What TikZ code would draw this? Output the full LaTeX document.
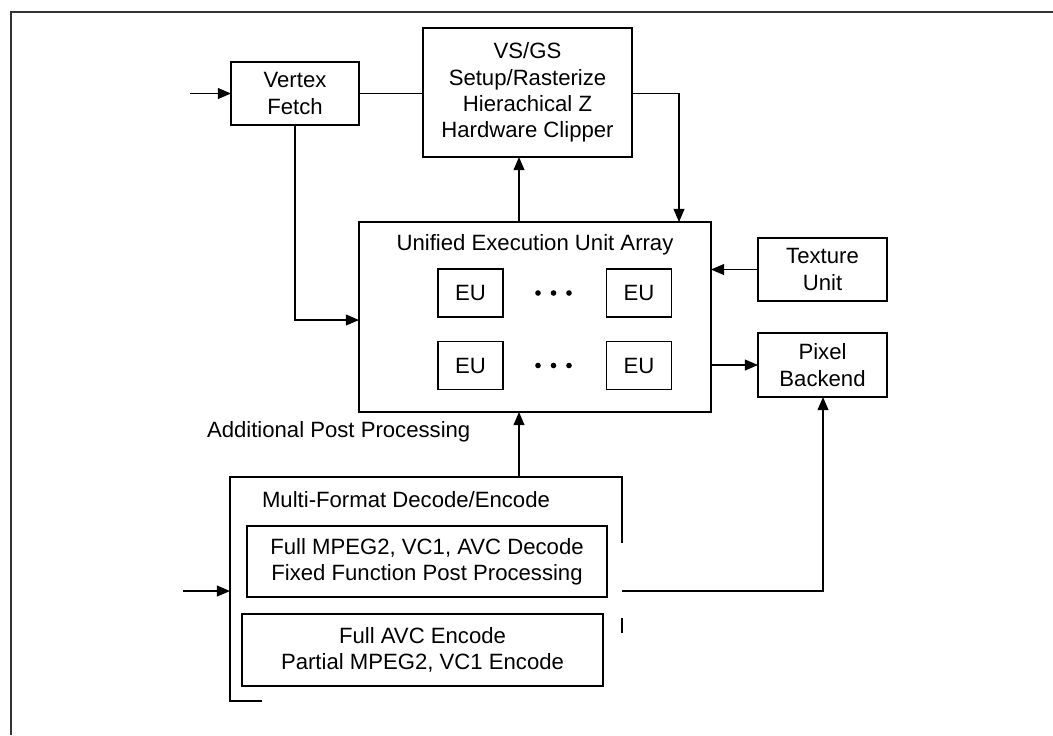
\documentclass[tikz,border=0pt]{standalone}
\usepackage{fontspec}
\setmainfont{Liberation Sans}
\usetikzlibrary{arrows.meta}
\begin{document}
\begin{tikzpicture}[x=0.02cm,y=-0.02cm,
  every node/.style={font=\fontsize{12.6}{15}\selectfont, align=center, inner sep=0pt, outer sep=0pt},
  blk/.style={draw=black, line width=0.8pt},
  ln/.style={line width=0.8pt},
  arr/.style={line width=0.8pt, -{Triangle[length=7.5pt,width=6.2pt]}},
  lbl/.style={}]
\useasboundingbox (0,0) rectangle (1053,735);
% outer frame
\draw[line width=1.3pt, black!80] (11,735) -- (11,12) -- (1053,12);

% blocks
\node[blk, minimum width=2.56cm, minimum height=1.26cm] (VF) at (295,93.5) {Vertex\\Fetch};
\node[blk, minimum width=4.18cm, minimum height=2.58cm] (VS) at (527.5,92.5) {VS/GS\\Setup/Rasterize\\Hierachical Z\\Hardware Clipper};
\node[blk, minimum width=7.04cm, minimum height=3.8cm] (UEA) at (535,317) {};
\node[lbl] (UEAt) at (535,245) {Unified Execution Unit Array};
\node[blk, minimum width=1.3cm, minimum height=0.96cm] (EU1) at (470.5,293) {EU};
\node[blk, minimum width=1.3cm, minimum height=0.96cm] (EU2) at (639,293) {EU};
\node[blk, minimum width=1.3cm, minimum height=0.96cm] (EU3) at (470.5,365.5) {EU};
\node[blk, minimum width=1.3cm, minimum height=0.96cm] (EU4) at (639,365.5) {EU};
\foreach \x in {538,553.5,569} {
  \fill (\x,293) circle (2.8);
  \fill (\x,365.5) circle (2.8);
}
\node[blk, minimum width=2.58cm, minimum height=1.26cm] (TU) at (822.5,269.5) {Texture\\Unit};
\node[blk, minimum width=2.58cm, minimum height=1.28cm] (PB) at (822.5,365) {Pixel\\Backend};
\node[lbl, anchor=west] (APP) at (207,432) {Additional Post Processing};

% multi-format outer bracket-like frame
\draw[ln] (262,701) -- (230,701) -- (230,477) -- (622,477) -- (622,543);
\draw[ln] (622,618) -- (622,633);
\coordinate (MFtop) at (519,477);
\coordinate (MFout) at (622,591);
\coordinate (MFin) at (230,591);
\node[lbl] (MFt) at (406,500) {Multi-Format Decode/Encode};
\node[blk, minimum width=7.2cm, minimum height=1.42cm] (B1) at (427,561.5) {Full MPEG2, VC1, AVC Decode\\Fixed Function Post Processing};
\node[blk, minimum width=7.22cm, minimum height=1.44cm] (B2) at (422.5,650) {Full AVC Encode\\Partial MPEG2, VC1 Encode};

% connectors
\coordinate (inVF) at (190,93.5);
\coordinate (inMF) at (183,591);
\coordinate (c1) at (519,0);
\coordinate (c2) at (679,0);
\coordinate (c3) at (295,320);
\coordinate (c4) at (823,0);
\draw[arr] (inVF) -- (VF.west);
\draw[ln] (VF.east) -- (VF.east -| VS.west);
\draw[arr] (VS.east |- VF.east) -| (UEA.north -| c2);
\draw[arr] (UEA.north -| c1) -- (VS.south -| c1);
\draw[arr] (VF.south) -- (c3) -- (c3 -| UEA.west);
\draw[arr] (TU.west) -- (TU.west -| UEA.east);
\draw[arr] (UEA.east |- PB.west) -- (PB.west);
\draw[arr] (MFtop) -- (UEA.south -| MFtop);
\draw[arr] (inMF) -- (MFin);
\draw[arr] (MFout) -| (PB.south -| c4);
\end{tikzpicture}
\end{document}
